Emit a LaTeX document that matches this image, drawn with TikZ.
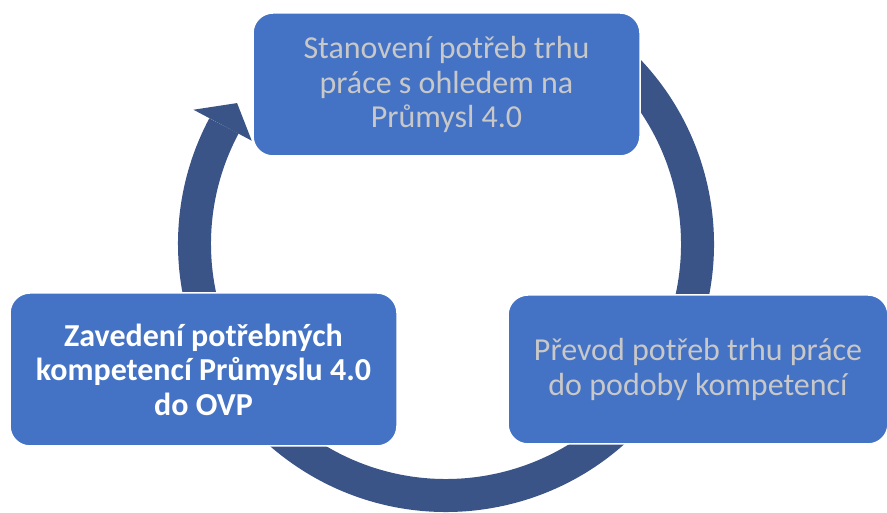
\documentclass[tikz,border=0pt]{standalone}
\usepackage{fontspec}
\setmainfont{Carlito}
\usepackage{tikz}
\usetikzlibrary{calc}

\definecolor{boxblue}{RGB}{68,114,196}
\definecolor{ringblue}{RGB}{59,84,135}
\definecolor{textgray}{RGB}{200,200,200}

\begin{document}
\begin{tikzpicture}[x=1pt,y=1pt,
      stepbox/.style={draw=white,line width=1.5pt,fill=boxblue,rounded corners=20pt,
        align=center,font=\fontsize{32}{34.5}\selectfont},
      ring/.style={draw=ringblue,line width=33pt,line cap=butt}]
      \useasboundingbox (0,0) rectangle (887,513);
      \clip (0,0) rectangle (887,513);
      % ring with arrow head
      \coordinate (ctr) at (446,269);
      \draw[ring] ($(ctr)+(55:251.5pt)$) arc[start angle=55,end angle=-208,radius=251.5pt];
      \fill[ringblue] ($(ctr)+(152:286pt)$) -- ($(ctr)+(146:252pt)$) -- ($(ctr)+(152:220pt)$) -- cycle;
      % boxes
      \node[stepbox,minimum width=387pt,minimum height=143pt,text=textgray] (needs) at (446.5,428.5)
        {Stanovení potřeb trhu\\práce s ohledem na\\Průmysl 4.0};
      \node[stepbox,minimum width=380pt,minimum height=149pt,text=textgray] (convert) at (698,143.5)
        {Převod potřeb trhu práce\\do podoby kompetencí};
      \node[stepbox,minimum width=387pt,minimum height=153pt,text=white,font=\fontsize{32}{34.5}\selectfont\bfseries] (adopt) at (203.5,143.5)
        {Zavedení potřebných\\kompetencí Průmyslu 4.0\\do OVP};
    \end{tikzpicture}
\end{document}
